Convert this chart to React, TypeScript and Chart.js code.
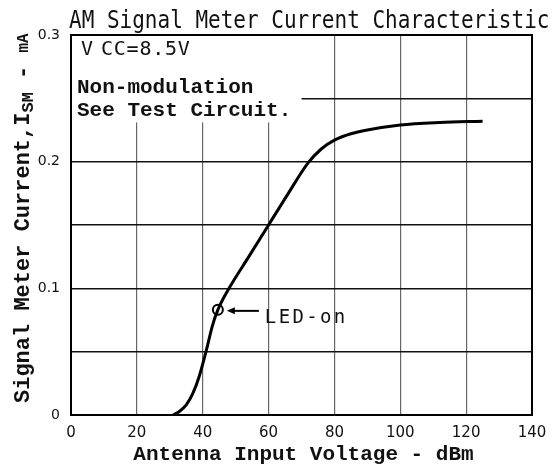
import React, { useEffect, useRef } from "react";
import { Chart, registerables } from "chart.js";

Chart.register(...registerables);

// Curve (Antenna input voltage dBm -> I_SM mA)
const CURVE_X = [31, 33, 35, 37, 39, 41, 43, 44.6, 48, 54, 60, 66, 72, 76, 80, 85, 90, 100, 112, 125];
const CURVE_Y = [0, 0.003, 0.008, 0.017, 0.031, 0.05, 0.071, 0.083, 0.1, 0.125, 0.15, 0.175, 0.199, 0.21, 0.217, 0.222, 0.225, 0.229, 0.231, 0.232];
const LED_X = [44.6];
const LED_Y = [0.083];
const X_TICKS = [0, 20, 40, 60, 80, 100, 120, 140];
const Y_LABELED = [0, 0.1, 0.2, 0.3];

const TITLE = "AM Signal Meter Current Characteristic";
const X_TITLE = "Antenna Input Voltage - dBm";
const NOTE_1A = "V";
const NOTE_1B = "CC=8.5V";
const NOTE_2 = "Non-modulation";
const NOTE_3 = "See Test Circuit.";
const LED_LABEL = "LED-on";
const BOX_X = [0, 70];
const BOX_Y = [0.231, 0.3];

function drawSpaced(ctx: CanvasRenderingContext2D, text: string, x: number, y: number, adv: number) {
  for (let i = 0; i < text.length; i++) ctx.fillText(text[i], x + i * adv, y);
}

const decor = {
  id: "decor",
  beforeDatasetsDraw(chart: any) {
    const { ctx, chartArea, scales } = chart;
    const x = scales.x, y = scales.y;
    ctx.save();
    ctx.fillStyle = "#fff";
    const x0 = x.getPixelForValue(BOX_X[0]);
    const x1 = x.getPixelForValue(BOX_X[1]);
    const y0 = y.getPixelForValue(BOX_Y[1]);
    const y1 = y.getPixelForValue(BOX_Y[0]);
    ctx.fillRect(x0, y0, x1 - x0, y1 - y0);
    ctx.strokeStyle = "#000";
    ctx.lineWidth = 2;
    ctx.strokeRect(chartArea.left, chartArea.top, chartArea.right - chartArea.left, chartArea.bottom - chartArea.top);
    ctx.restore();
  },
  afterDraw(chart: any) {
    const { ctx, chartArea, scales } = chart;
    const x = scales.x, y = scales.y;
    ctx.save();
    ctx.fillStyle = "#111";
    // Title
    ctx.font = '21px "DejaVu Sans Mono"';
    ctx.textBaseline = "alphabetic";
    ctx.textAlign = "left";
    ctx.save();
    ctx.translate(chartArea.left - 2, 28);
    ctx.scale(1, 1.15);
    ctx.fillText(TITLE, 0, 0);
    ctx.restore();

    // X title
    ctx.font = 'bold 21px "Liberation Mono"';
    ctx.textAlign = "center";
    ctx.fillText(X_TITLE, (chartArea.left + chartArea.right) / 2 + 2, 460);

    // Y title (rotated, with subscript)
    ctx.save();
    ctx.translate(29, 403);
    ctx.rotate(-Math.PI / 2);
    ctx.textAlign = "left";
    ctx.font = 'bold 22px "Liberation Mono"';
    const main = "Signal Meter Current,I";
    ctx.fillText(main, 0, 0);
    let off = ctx.measureText(main).width;
    ctx.font = 'bold 17px "Liberation Mono"';
    ctx.fillText("SM", off, 4);
    off += ctx.measureText("SM").width;
    ctx.font = 'bold 22px "Liberation Mono"';
    ctx.fillText(" - ", off, 0);
    off += ctx.measureText(" - ").width;
    ctx.font = 'bold 16px "Liberation Mono"';
    ctx.fillText("mA", off, -1);
    ctx.restore();

    // Notes in box
    ctx.textAlign = "left";
    ctx.font = '20px "DejaVu Sans Mono"';
    ctx.fillText(NOTE_1A, chartArea.left + 10, 55);
    drawSpaced(ctx, NOTE_1B, chartArea.left + 30, 55, 12.8);
    ctx.font = 'bold 21px "Liberation Mono"';
    ctx.fillText(NOTE_2, chartArea.left + 6, 93);
    ctx.fillText(NOTE_3, chartArea.left + 6, 116);

    // LED-on arrow and label
    const px = x.getPixelForValue(LED_X[0]);
    const py = y.getPixelForValue(LED_Y[0]);
    ctx.strokeStyle = "#000";
    ctx.lineWidth = 2;
    ctx.beginPath();
    ctx.moveTo(px + 14, py + 1);
    ctx.lineTo(px + 41, py + 1);
    ctx.stroke();
    ctx.beginPath();
    ctx.moveTo(px + 9, py + 1);
    ctx.lineTo(px + 17, py - 2.5);
    ctx.lineTo(px + 17, py + 4.5);
    ctx.closePath();
    ctx.fillStyle = "#000";
    ctx.fill();
    ctx.fillStyle = "#111";
    ctx.font = '19px "DejaVu Sans Mono"';
    ctx.textBaseline = "middle";
    drawSpaced(ctx, LED_LABEL, px + 47, py + 8, 13.8);
    ctx.restore();
  },
};

export default function App() {
  const ref = useRef<HTMLCanvasElement | null>(null);
  useEffect(() => {
    if (!ref.current) return;
    const chart = new Chart(ref.current, {
      type: "line",
      data: {
        datasets: [
          {
            data: CURVE_X.map((v, i) => ({ x: v, y: CURVE_Y[i] })),
            borderColor: "#000",
            borderWidth: 3,
            pointRadius: 0,
            cubicInterpolationMode: "monotone",
            fill: false,
          },
          {
            data: LED_X.map((v, i) => ({ x: v, y: LED_Y[i] })),
            showLine: false,
            pointRadius: 5,
            pointBorderWidth: 2,
            pointBorderColor: "#000",
            pointBackgroundColor: "rgba(0,0,0,0)",
          },
        ],
      },
      options: {
        animation: false,
        responsive: false,
        layout: { padding: { top: 35, right: 24, left: 0, bottom: 0 } },
        plugins: { legend: { display: false }, tooltip: { enabled: false }, title: { display: false } },
        scales: {
          x: {
            type: "linear",
            min: 0,
            max: 140,
            afterBuildTicks: (s: any) => {
              s.ticks = X_TICKS.map((v) => ({ value: v }));
            },
            afterFit: (s: any) => {
              s.height = 55;
            },
            ticks: { color: "#111", font: { family: "DejaVu Sans", size: 15 }, padding: 9, maxRotation: 0 },
            grid: { color: "#666", lineWidth: 1.2, drawTicks: false },
            border: { display: false },
          },
          y: {
            type: "linear",
            min: 0,
            max: 0.3,
            ticks: {
              stepSize: 0.05,
              color: "#111",
              font: { family: "DejaVu Sans", size: 14 },
              padding: 11,
              callback: (v: any) => {
                const hit = Y_LABELED.find((t) => Math.abs(t - v) < 1e-6);
                if (hit === undefined) return "";
                return hit === 0 ? "0" : hit.toFixed(1);
              },
            },
            afterFit: (s: any) => {
              s.width = 71;
            },
            grid: { color: "#111", lineWidth: 1.5, drawTicks: false },
            border: { display: false },
          },
        },
      },
      plugins: [decor],
    } as any);
    return () => chart.destroy();
  }, []);
  return (
    <div style={{ position: "absolute", left: 0, top: 0, width: 556, height: 470, background: "#fff" }}>
      <canvas ref={ref} width={556} height={470} style={{ display: "block" }} />
    </div>
  );
}
